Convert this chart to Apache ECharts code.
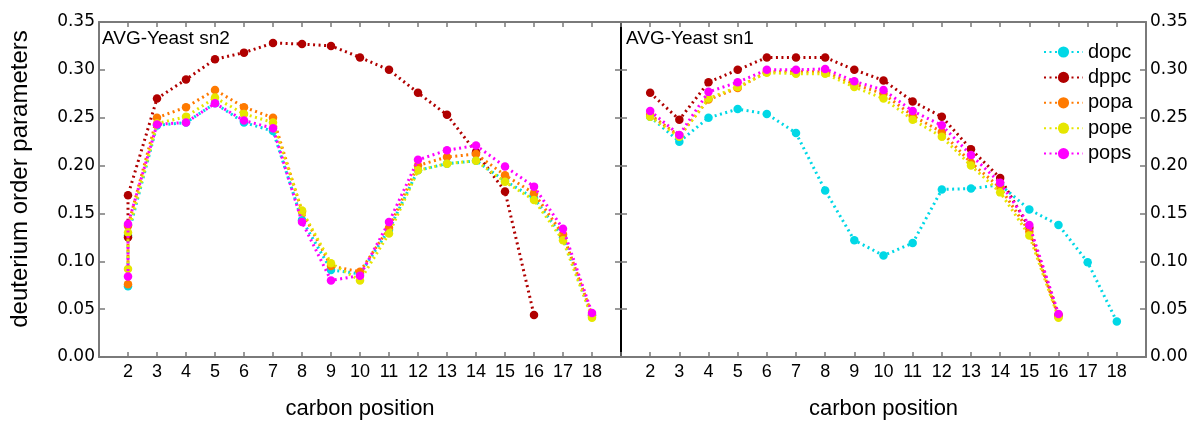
<!DOCTYPE html>
<html>
<head>
<meta charset="utf-8">
<script src="https://cdn.jsdelivr.net/npm/echarts@6/dist/echarts.min.js"></script>
<style>
    html, body { margin: 0; padding: 0; background: #fff; }
    #chart { width: 1195px; height: 425px; }
</style>
</head>
<body>
<div id="chart"></div>
<script>
// carbon positions (sn2 has two points at C2)
const carbonSn2     = [2, 2, 3, 4, 5, 6, 7, 8, 9, 10, 11, 12, 13, 14, 15, 16, 17, 18];
const carbonSn2Dppc = [2, 2, 3, 4, 5, 6, 7, 8, 9, 10, 11, 12, 13, 14, 15, 16];
const carbonSn1     = [2, 3, 4, 5, 6, 7, 8, 9, 10, 11, 12, 13, 14, 15, 16, 17, 18];
const carbonSn1Sat  = [2, 3, 4, 5, 6, 7, 8, 9, 10, 11, 12, 13, 14, 15, 16];

// sn2 chain
const dopcSn2 = [0.074, 0.127, 0.242, 0.245, 0.265, 0.245, 0.236, 0.143, 0.091, 0.087, 0.133, 0.195, 0.202, 0.205, 0.184, 0.166, 0.125, 0.043];
const dppcSn2 = [0.125, 0.169, 0.270, 0.290, 0.311, 0.318, 0.328, 0.327, 0.325, 0.313, 0.300, 0.276, 0.253, 0.214, 0.173, 0.044];
const popaSn2 = [0.076, 0.137, 0.250, 0.261, 0.279, 0.261, 0.250, 0.152, 0.095, 0.089, 0.135, 0.200, 0.209, 0.212, 0.190, 0.171, 0.128, 0.044];
const popeSn2 = [0.092, 0.130, 0.244, 0.251, 0.271, 0.254, 0.245, 0.153, 0.098, 0.080, 0.129, 0.195, 0.202, 0.205, 0.183, 0.164, 0.122, 0.041];
const popsSn2 = [0.084, 0.139, 0.243, 0.245, 0.265, 0.247, 0.239, 0.141, 0.080, 0.085, 0.141, 0.206, 0.216, 0.221, 0.199, 0.178, 0.134, 0.046];

// sn1 chain
const dopcSn1 = [0.251, 0.225, 0.250, 0.259, 0.254, 0.234, 0.174, 0.122, 0.106, 0.119, 0.175, 0.176, 0.180, 0.154, 0.138, 0.099, 0.037];
const dppcSn1 = [0.276, 0.248, 0.287, 0.300, 0.313, 0.313, 0.313, 0.300, 0.289, 0.267, 0.251, 0.217, 0.187, 0.135, 0.044];
const popaSn1 = [0.253, 0.231, 0.269, 0.281, 0.298, 0.298, 0.298, 0.285, 0.275, 0.252, 0.235, 0.203, 0.177, 0.131, 0.042];
const popeSn1 = [0.251, 0.230, 0.270, 0.282, 0.297, 0.296, 0.296, 0.282, 0.270, 0.248, 0.230, 0.200, 0.172, 0.127, 0.041];
const popsSn1 = [0.257, 0.232, 0.277, 0.287, 0.300, 0.300, 0.301, 0.288, 0.279, 0.257, 0.242, 0.211, 0.182, 0.138, 0.045];

const names  = ['dopc', 'dppc', 'popa', 'pope', 'pops'];
const colors = ['#00d8e6', '#b00000', '#ff7a00', '#e6e600', '#ff00ff'];

const gray = '#7a7a7a';
const labelFont = 'Liberation Sans, Arial, sans-serif';

function pairs(xs, ys) {
    return ys.map((y, i) => [xs[i], y]);
}

function lineSeries(name, xs, ys, xIdx, yIdx) {
    let c = colors[names.indexOf(name)];
    return {
        name: name,
        type: 'line',
        xAxisIndex: xIdx,
        yAxisIndex: yIdx,
        data: pairs(xs, ys),
        symbol: 'circle',
        symbolSize: 8.5,
        itemStyle: { color: c },
        lineStyle: { color: c, width: 3, type: [2, 3.5] },
        emphasis: { disabled: true },
        z: 2 + names.indexOf(name)
    };
}

function xAxis(grid, pos, withLabels) {
    return {
        type: 'value',
        gridIndex: grid,
        position: pos,
        min: 1,
        max: 19,
        interval: 1,
        splitLine: { show: false },
        axisLine: { show: true, onZero: false, lineStyle: { color: gray, width: 2 } },
        axisTick: { show: true, inside: true, length: 5, lineStyle: { color: gray, width: 1.5 } },
        axisLabel: {
            show: withLabels,
            margin: 6,
            color: '#000',
            fontFamily: labelFont,
            fontSize: 18,
            formatter: v => (v < 2 || v > 18) ? '' : String(v)
        },
        name: withLabels ? 'carbon position' : '',
        nameLocation: 'middle',
        nameGap: 41,
        nameTextStyle: { color: '#000', fontFamily: labelFont, fontSize: 22 }
    };
}

function yAxis(grid, pos, withLabels, lineColor) {
    return {
        type: 'value',
        gridIndex: grid,
        position: pos,
        min: 0,
        max: 0.35,
        interval: 0.05,
        splitLine: { show: false },
        axisLine: { show: true, onZero: false, lineStyle: { color: lineColor, width: 2 } },
        axisTick: { show: true, inside: true, length: 6, lineStyle: { color: gray, width: 1.5 } },
        axisLabel: {
            show: withLabels,
            margin: 4,
            color: '#000',
            fontFamily: 'DejaVu Sans, sans-serif',
            fontSize: 17,
            formatter: v => v.toFixed(2)
        }
    };
}

let chart = echarts.init(document.getElementById('chart'), null, { renderer: 'canvas' });

let option = {
    animation: false,
    backgroundColor: '#fff',
    grid: [
        { left: 99, top: 22, width: 522, height: 336 },
        { left: 621, top: 22, width: 525, height: 336 }
    ],
    title: [
        { text: 'AVG-Yeast sn2', left: 102, top: 29, textStyle: { fontFamily: labelFont, fontSize: 19, fontWeight: 'normal', color: '#000' }, padding: 0 },
        { text: 'AVG-Yeast sn1', left: 626, top: 29, textStyle: { fontFamily: labelFont, fontSize: 19, fontWeight: 'normal', color: '#000' }, padding: 0 }
    ],
    legend: {
        orient: 'vertical',
        left: 1043,
        top: 42,
        padding: 0,
        itemWidth: 39,
        itemHeight: 14,
        itemGap: 5.4,
        textStyle: { fontFamily: labelFont, fontSize: 20, color: '#000', lineHeight: 20 },
        data: names
    },
    graphic: [
        {
            type: 'text',
            x: 20,
            y: 179,
            rotation: Math.PI / 2,
            style: {
                text: 'deuterium order parameters',
                fontFamily: labelFont,
                fontSize: 24,
                fill: '#000',
                align: 'center',
                verticalAlign: 'middle'
            }
        }
    ],
    xAxis: [
        xAxis(0, 'bottom', true),
        xAxis(0, 'top', false),
        xAxis(1, 'bottom', true),
        xAxis(1, 'top', false)
    ],
    yAxis: [
        yAxis(0, 'left', true, gray),
        yAxis(0, 'right', false, '#000'),
        yAxis(1, 'left', false, '#000'),
        yAxis(1, 'right', true, gray)
    ],
    series: [
        lineSeries('dopc', carbonSn2, dopcSn2, 0, 0),
        lineSeries('dppc', carbonSn2Dppc, dppcSn2, 0, 0),
        lineSeries('popa', carbonSn2, popaSn2, 0, 0),
        lineSeries('pope', carbonSn2, popeSn2, 0, 0),
        lineSeries('pops', carbonSn2, popsSn2, 0, 0),
        lineSeries('dopc', carbonSn1, dopcSn1, 2, 3),
        lineSeries('dppc', carbonSn1Sat, dppcSn1, 2, 3),
        lineSeries('popa', carbonSn1Sat, popaSn1, 2, 3),
        lineSeries('pope', carbonSn1Sat, popeSn1, 2, 3),
        lineSeries('pops', carbonSn1Sat, popsSn1, 2, 3)
    ]
};

chart.setOption(option);
</script>
</body>
</html>
